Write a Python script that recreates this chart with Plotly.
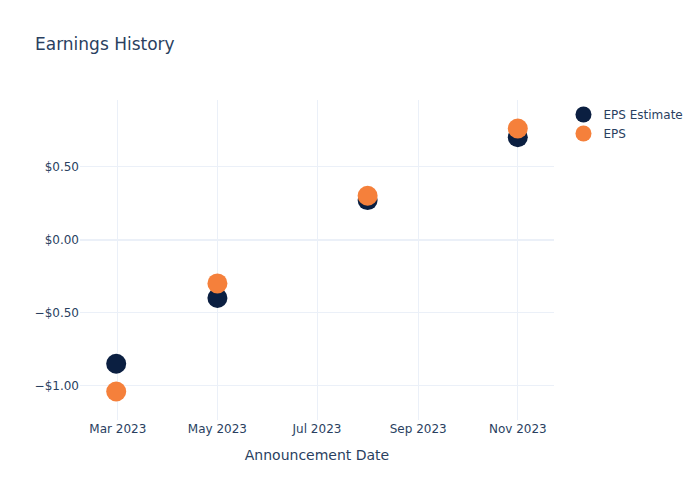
import plotly.graph_objects as go

dates = ["2023-02-28", "2023-05-01", "2023-08-01", "2023-11-01"]
eps_estimate = [-0.85, -0.40, 0.27, 0.70]
eps_actual = [-1.04, -0.30, 0.30, 0.76]

fig = go.Figure()
fig.add_trace(go.Scatter(x=dates, y=eps_estimate, mode="markers", name="EPS Estimate",
                         marker=dict(color="#0b1f41", size=20)))
fig.add_trace(go.Scatter(x=dates, y=eps_actual, mode="markers", name="EPS",
                         marker=dict(color="#f5803b", size=20)))
fig.update_layout(
    template="plotly_white",
    font=dict(family="DejaVu Sans"),
    title=dict(text="Earnings History"),
    width=700, height=500,
    xaxis=dict(title=dict(text="Announcement Date")),
    yaxis=dict(tickformat="$.2f"),
)
fig.write_html("out.html", config={"displayModeBar": False},
               post_script="document.body.style.margin='0';")
